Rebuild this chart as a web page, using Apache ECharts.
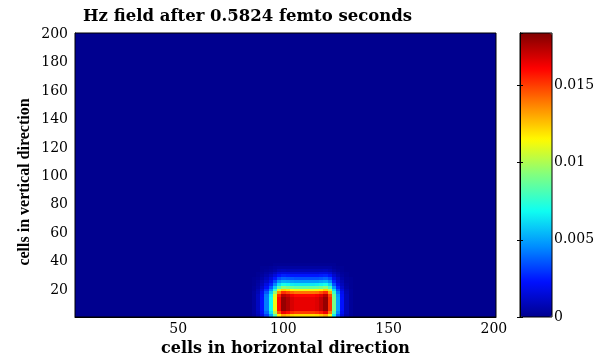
<!DOCTYPE html>
<html><head><meta charset="utf-8">
<script src="https://cdn.jsdelivr.net/npm/echarts@6/dist/echarts.min.js"></script>
<style>html,body{margin:0;padding:0;background:#fff}#chart{width:600px;height:358px}</style>
</head><body><div id="chart"></div>
<script>
// ---- text ----
const titleText = 'Hz field after 0.5824 femto seconds';
const xName = 'cells in horizontal direction';
const yName = 'cells in vertical direction';

// ---- axes / categories ----
const cellsPerBin = 2;          // each heatmap cell = 2x2 simulation cells
const gridCells = 200;
const xTickLabels = ['50', '100', '150', '200'];
const yTickLabels = ['20', '40', '60', '80', '100', '120', '140', '160', '180', '200'];
const colorbarMin = 0;
const colorbarMax = 0.0184;
const colorbarStep = 0.005;

// ---- field values (units of 1e-4) ----
// columns: bins labelled 86,88,...,132 ; rows: bins labelled 2,4,...,38 (bottom row first)
const hzUnit = 1e-4;
const hotColStart = 86;
const hotRowStart = 2;
const hzRows = [
  [2,7,17,31,50,82,116,131,127,122,120,120,120,120,120,121,125,131,112,66,36,17,6,2],
  [3,9,21,39,63,102,146,164,159,153,150,150,150,150,150,152,156,164,140,83,45,21,8,2],
  [3,10,23,43,69,112,160,180,175,168,165,165,165,165,165,167,172,180,153,91,50,23,8,2],
  [3,10,23,43,69,112,160,180,175,168,165,165,165,165,165,167,172,180,153,91,50,23,8,2],
  [3,10,23,43,69,112,160,180,175,168,165,165,165,165,165,167,172,180,153,91,50,23,8,2],
  [3,10,23,43,69,112,160,180,175,168,165,165,165,165,165,167,172,180,153,91,50,23,8,2],
  [3,10,23,43,69,112,160,180,175,168,165,165,165,165,165,167,172,180,153,91,50,23,8,2],
  [3,10,22,42,67,109,155,174,170,163,160,160,160,160,160,162,166,174,149,88,48,22,8,2],
  [3,8,20,36,59,95,136,153,148,143,140,140,140,140,140,141,146,153,130,77,42,20,7,2],
  [2,7,16,29,47,76,109,122,119,114,112,112,112,112,112,113,116,122,104,62,34,16,6,2],
  [2,5,12,22,36,58,82,93,90,87,85,85,85,85,85,86,88,93,79,47,26,12,4,1],
  [1,4,9,17,27,44,62,70,68,65,64,64,64,64,64,65,67,70,60,35,19,9,3,1],
  [1,3,7,12,20,33,47,52,51,49,48,48,48,48,48,48,50,52,45,26,14,7,2,1],
  [1,2,5,9,15,24,34,38,37,36,35,35,35,35,35,35,36,38,33,19,11,5,2,1],
  [0,1,3,6,10,16,23,26,25,24,24,24,24,24,24,24,25,26,22,13,7,3,1,0],
  [0,1,2,4,6,10,15,16,16,15,15,15,15,15,15,15,16,16,14,8,5,2,1,0],
  [0,0,1,2,3,5,8,9,8,8,8,8,8,8,8,8,8,9,7,4,2,1,0,0],
  [0,0,1,1,2,3,4,4,4,4,4,4,4,4,4,4,4,4,4,2,1,1,0,0],
  [0,0,0,0,0,1,1,1,1,1,1,1,1,1,1,1,1,1,1,1,0,0,0,0]
];

const jet = ['#00008f','#0010ff','#008fff','#10fff0','#80ff80','#fffa00','#ff8000','#ff0000','#800000'];

// ---- build the table the library needs ----
const binLabels = [];
for (let v = cellsPerBin; v <= gridCells; v += cellsPerBin) binLabels.push(String(v));
const heatData = [];
for (let yi = 0; yi < binLabels.length; yi++) {
  for (let xi = 0; xi < binLabels.length; xi++) {
    const c = (Number(binLabels[xi]) - hotColStart) / cellsPerBin;
    const r = (Number(binLabels[yi]) - hotRowStart) / cellsPerBin;
    let v = 0;
    if (r >= 0 && r < hzRows.length && c >= 0 && c < hzRows[r].length) v = hzRows[r][c] * hzUnit;
    heatData.push([xi, yi, v]);
  }
}

const tickFont = {fontFamily: 'DejaVu Serif', fontSize: 14, color: '#000'};
const chart = echarts.init(document.getElementById('chart'), null, {renderer: 'canvas'});
chart.setOption({
  animation: false,
  backgroundColor: '#fff',
  title: {
    text: titleText, left: 83, top: 8, padding: 0,
    textStyle: {fontFamily: 'DejaVu Serif', fontWeight: 'bold', fontSize: 16.5, color: '#000'}
  },
  graphic: [{
    type: 'text', x: 25, y: 182, rotation: Math.PI / 2, silent: true,
    style: {text: yName, fontFamily: 'Liberation Serif', fontWeight: 'bold', fontSize: 16, fill: '#000',
      align: 'center', verticalAlign: 'middle'}
  }],
  grid: [
    {left: 75, top: 33, width: 421, height: 284, show: true, borderColor: '#000', borderWidth: 1,
      backgroundColor: 'transparent', z: 10, containLabel: false, outerBoundsMode: 'none'},
    {left: 520, top: 33, width: 32, height: 284, show: true, borderColor: '#000', borderWidth: 1,
      backgroundColor: 'transparent', z: 10, containLabel: false, outerBoundsMode: 'none'}
  ],
  xAxis: [
    {
      type: 'category', data: binLabels, gridIndex: 0,
      name: xName, nameLocation: 'middle', nameGap: 20,
      nameTextStyle: {fontFamily: 'DejaVu Serif', fontWeight: 'bold', fontSize: 16, color: '#000'},
      axisLine: {show: true, lineStyle: {color: '#000'}},
      axisTick: {show: true, inside: true, length: 4, alignWithLabel: true, lineStyle: {color: '#000'},
        interval: (i, v) => xTickLabels.includes(v)},
      axisLabel: Object.assign({margin: 5, interval: (i, v) => xTickLabels.includes(v)}, tickFont),
      splitLine: {show: false}
    },
    {type: 'value', gridIndex: 1, min: 0, max: 1, show: false}
  ],
  yAxis: [
    {
      type: 'category', data: binLabels, gridIndex: 0,
      axisLine: {show: true, lineStyle: {color: '#000'}},
      axisTick: {show: true, inside: true, length: 4, alignWithLabel: true, lineStyle: {color: '#000'},
        interval: (i, v) => yTickLabels.includes(v)},
      axisLabel: Object.assign({margin: 7, interval: (i, v) => yTickLabels.includes(v)}, tickFont),
      splitLine: {show: false}
    },
    {
      type: 'value', gridIndex: 1, position: 'right', min: colorbarMin, max: colorbarMax, interval: colorbarStep,
      axisLine: {show: true, lineStyle: {color: '#000'}},
      axisTick: {show: true, inside: true, length: 3, lineStyle: {color: '#000'}},
      axisLabel: Object.assign({margin: 2, showMaxLabel: false}, tickFont),
      splitLine: {show: false}, z: 10
    },
    {
      type: 'value', gridIndex: 1, position: 'left', min: colorbarMin, max: colorbarMax, interval: colorbarStep,
      axisLine: {show: true, lineStyle: {color: '#000'}},
      axisTick: {show: true, inside: true, length: 3, lineStyle: {color: '#000'}},
      axisLabel: {show: false}, splitLine: {show: false}, z: 10
    }
  ],
  visualMap: {
    type: 'continuous', seriesIndex: 0, dimension: 2, min: colorbarMin, max: colorbarMax,
    calculable: false, hoverLink: false, text: null, showLabel: false,
    left: 520, top: 33, itemWidth: 32, itemHeight: 284, padding: 0, z: 2,
    inRange: {color: jet}
  },
  series: [{
    type: 'custom', xAxisIndex: 0, yAxisIndex: 0, data: heatData, silent: true,
    encode: {x: 0, y: 1},
    renderItem: function (params, api) {
      const p = api.coord([api.value(0), api.value(1)]);
      const s = api.size([1, 1]);
      const x0 = Math.round(p[0] - s[0] / 2), x1 = Math.round(p[0] + s[0] / 2);
      const y0 = Math.round(p[1] - s[1] / 2), y1 = Math.round(p[1] + s[1] / 2);
      return {type: 'rect', shape: {x: x0, y: y0, width: x1 - x0, height: y1 - y0},
        style: {fill: api.visual('color')}};
    }
  }]
});
</script></body></html>
